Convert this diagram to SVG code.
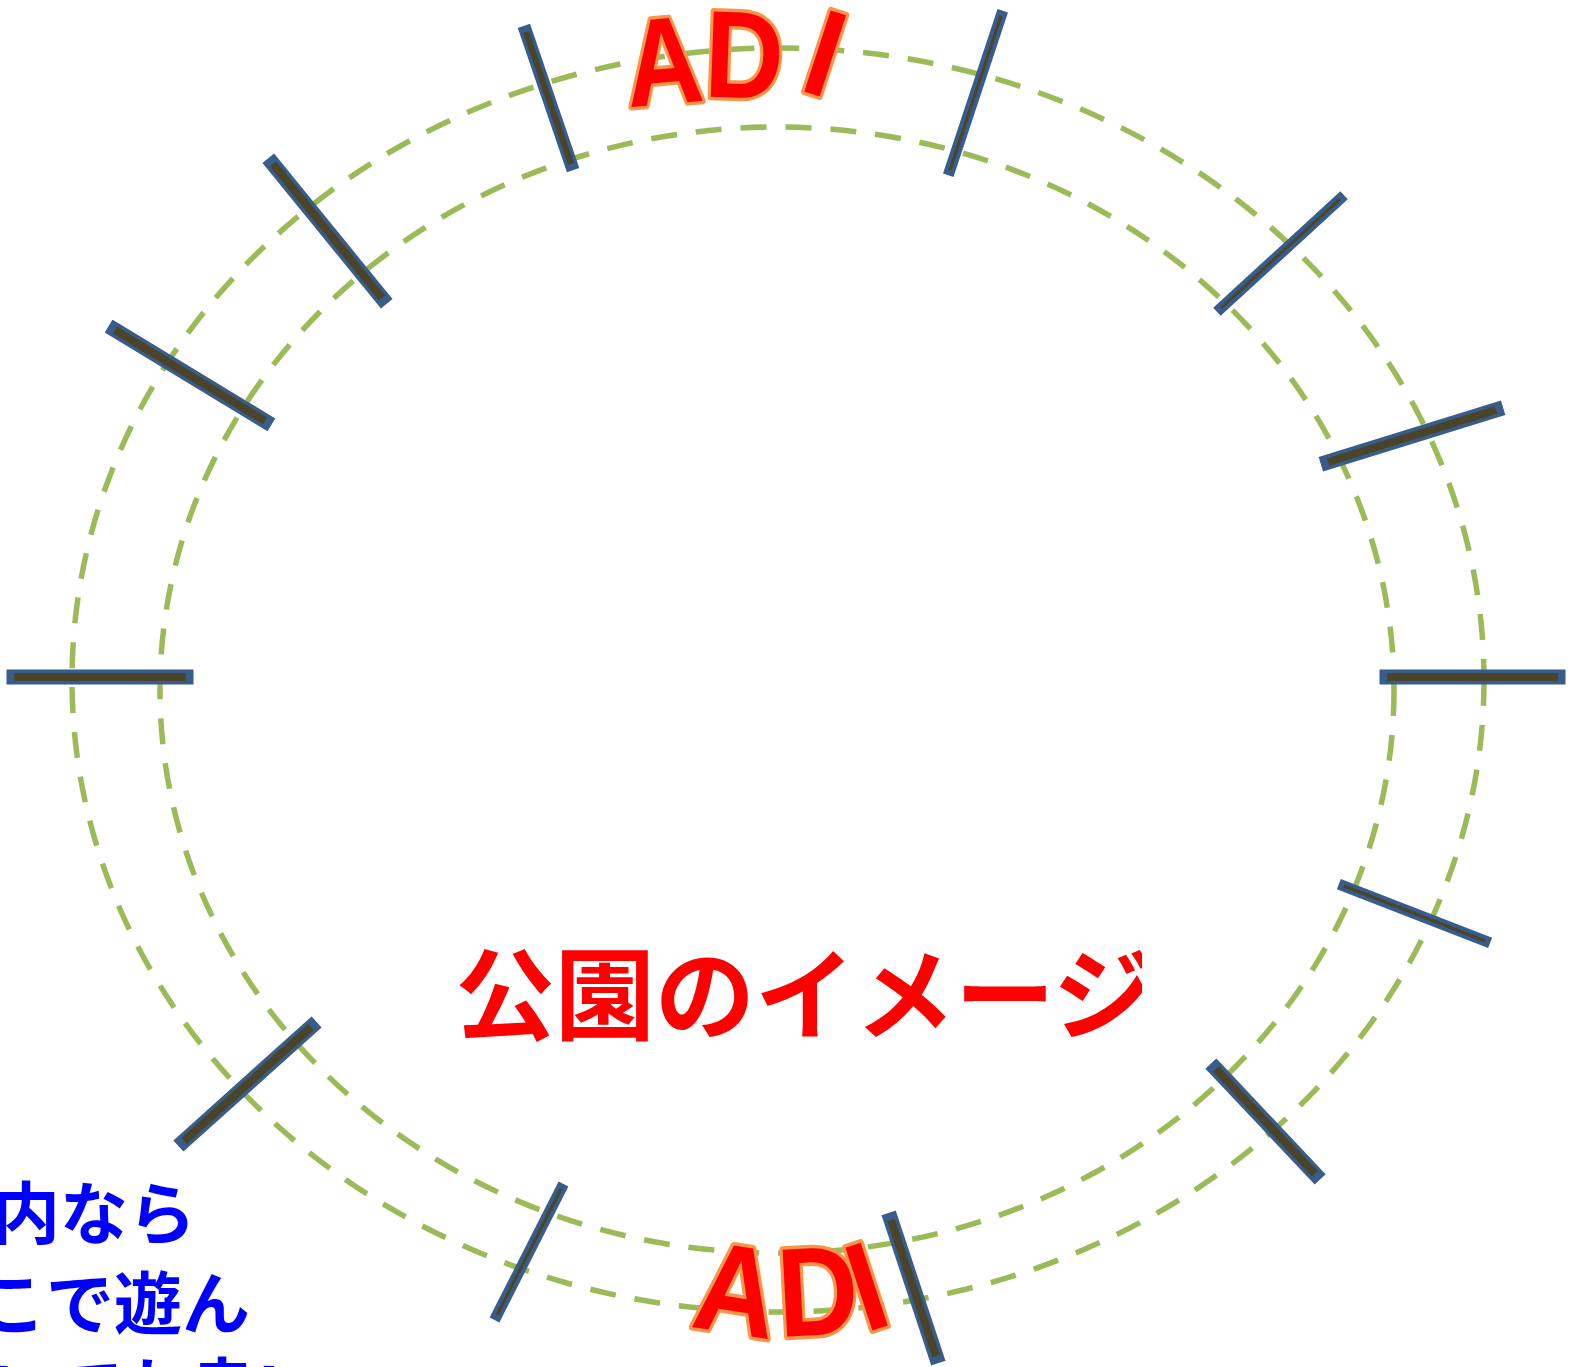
<svg xmlns="http://www.w3.org/2000/svg" width="1572" height="1367" viewBox="0 0 1572 1367">
<style>
.ring{fill:none;stroke:#9BBB59;stroke-width:5.5;stroke-dasharray:26 19}
.tb{stroke:#385D8A;stroke-linecap:square;fill:none}
.ti{stroke:#4A452A;stroke-linecap:butt;fill:none}
.thick .tb{stroke-width:15}
.thick .ti{stroke-width:8}
.mid .tb{stroke-width:13}
.mid .ti{stroke-width:6}
.thin .tb{stroke-width:11}
.thin .ti{stroke-width:3}
.adi{font-family:"Liberation Sans",Arial,sans-serif;font-weight:bold;font-size:124px;fill:#FF0000;stroke:#F79646;stroke-width:7;stroke-linejoin:round;paint-order:stroke;text-anchor:middle}
.title{font-family:"Noto Sans CJK JP",sans-serif;font-weight:bold;font-size:100px;fill:#FF0000}
.note{font-family:"Noto Sans CJK JP",sans-serif;font-weight:bold;font-size:68px;fill:#0000FF}
</style>
<defs>
<clipPath id="titleclip"><rect x="400" y="900" width="742" height="200"/></clipPath>
</defs>
<g id="rings">
<ellipse id="outer-ring" class="ring" cx="778" cy="680" rx="706" ry="632"/>
<ellipse id="inner-ring" class="ring" cx="777" cy="690" rx="617" ry="563"/>
</g>
<g id="connectors">
<g id="tick1" class="mid"><line class="tb" x1="526" y1="32" x2="571" y2="164"/><line class="ti" x1="526" y1="32" x2="571" y2="164"/></g>
<g id="tick2" class="thick"><line class="tb" x1="273" y1="164" x2="382" y2="298"/><line class="ti" x1="273" y1="164" x2="382" y2="298"/></g>
<g id="tick3" class="thick"><line class="tb" x1="115" y1="330" x2="265" y2="421"/><line class="ti" x1="115" y1="330" x2="265" y2="421"/></g>
<g id="tick4" class="thick"><line class="tb" x1="14" y1="677" x2="186" y2="677"/><line class="ti" x1="14" y1="677" x2="186" y2="677"/></g>
<g id="tick5" class="thick"><line class="tb" x1="184" y1="1141" x2="311" y2="1027"/><line class="ti" x1="184" y1="1141" x2="311" y2="1027"/></g>
<g id="tick6" class="thin"><line class="tb" x1="497" y1="1315" x2="561" y2="1189"/><line class="ti" x1="497" y1="1315" x2="561" y2="1189"/></g>
<g id="tick7" class="thick"><line class="tb" x1="891" y1="1220" x2="936" y2="1356"/><line class="ti" x1="891" y1="1220" x2="936" y2="1356"/></g>
<g id="tick8" class="thick"><line class="tb" x1="1216" y1="1069" x2="1315" y2="1174"/><line class="ti" x1="1216" y1="1069" x2="1315" y2="1174"/></g>
<g id="tick9" class="thin"><line class="tb" x1="1344" y1="886" x2="1485" y2="941"/><line class="ti" x1="1344" y1="886" x2="1485" y2="941"/></g>
<g id="tick10" class="thick"><line class="tb" x1="1387" y1="677" x2="1558" y2="677"/><line class="ti" x1="1387" y1="677" x2="1558" y2="677"/></g>
<g id="tick11" class="thick"><line class="tb" x1="1328" y1="462" x2="1496" y2="410"/><line class="ti" x1="1328" y1="462" x2="1496" y2="410"/></g>
<g id="tick12" class="thin"><line class="tb" x1="1221" y1="308" x2="1340" y2="199"/><line class="ti" x1="1221" y1="308" x2="1340" y2="199"/></g>
<g id="tick13" class="thin"><line class="tb" x1="950" y1="170" x2="1001" y2="16"/><line class="ti" x1="950" y1="170" x2="1001" y2="16"/></g>
</g>
<g id="adi-top">
<text class="adi" transform="translate(667,104) rotate(-5) scale(0.86,1)">A</text>
<text class="adi" transform="translate(743,98) rotate(2) scale(0.88,1)">D</text>
<text class="adi" transform="translate(812,94) rotate(18) scale(0.9,1)">I</text>
</g>
<g id="adi-bottom">
<text class="adi" transform="translate(730,1333) rotate(9) scale(0.92,1.02)">A</text>
<text class="adi" transform="translate(820,1335) rotate(-3) scale(0.9,1.02)">D</text>
<text class="adi" transform="translate(880,1328) rotate(-18) scale(0.9,1.02)">I</text>
</g>
<g id="title" clip-path="url(#titleclip)">
<text class="title" x="455" y="1032">公園のイメージ</text>
</g>
<g id="note">
<text class="note" x="-8" y="1239">内なら</text>
<text class="note" x="-22" y="1329">こで遊ん</text>
<text class="note" x="-10" y="1415">いても良い</text>
</g>
</svg>
